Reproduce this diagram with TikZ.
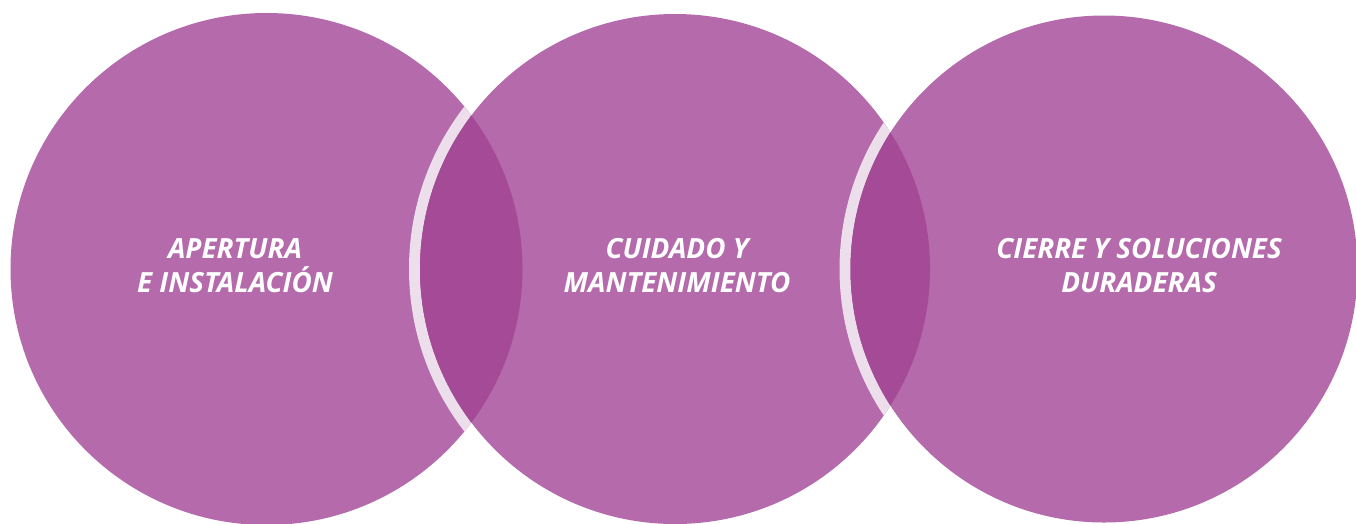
\documentclass[tikz,border=0pt]{standalone}
\usepackage{fontspec}
\setmainfont{Open Sans}
\definecolor{circ}{RGB}{180,106,171}
\definecolor{lens}{RGB}{165,74,150}
\definecolor{ring}{RGB}{237,222,236}
\begin{document}
\begin{tikzpicture}[x=1pt,y=-1pt,
  disc/.style={fill=circ},
  ringstyle/.style={draw=ring,line width=11pt},
  label/.style={text=white,font=\fontsize{27.8}{34}\selectfont\bfseries\itshape,align=center}]
\useasboundingbox (0,0) rectangle (1356,523);
\coordinate (c1) at (266.5,269);
\coordinate (c2) at (675,269);
\coordinate (c3) at (1104,269);
% circle 1
\fill[disc] (c1) circle (256);
% ring of circle 2 over circle 1
\begin{scope}
  \clip (c1) circle (256);
  \draw[ringstyle] (c2) circle (260.5);
\end{scope}
\fill[disc] (c2) circle (255);
\begin{scope}
  \clip (c1) circle (256);
  \fill[lens] (c2) circle (255);
\end{scope}
% ring of circle 3 over circle 2
\begin{scope}
  \clip (c2) circle (255);
  \draw[ringstyle] (c3) circle (259);
\end{scope}
\fill[disc] (c3) circle (253.5);
\begin{scope}
  \clip (c2) circle (255);
  \fill[lens] (c3) circle (253.5);
\end{scope}
\node[label] (t1) at (235,265.5) {APERTURA\\E INSTALACIÓN};
\node[label] (t2) at (677,265.5) {CUIDADO Y\\MANTENIMIENTO};
\node[label] (t3) at (1139,265.5) {CIERRE Y SOLUCIONES\\DURADERAS};
\end{tikzpicture}
\end{document}
